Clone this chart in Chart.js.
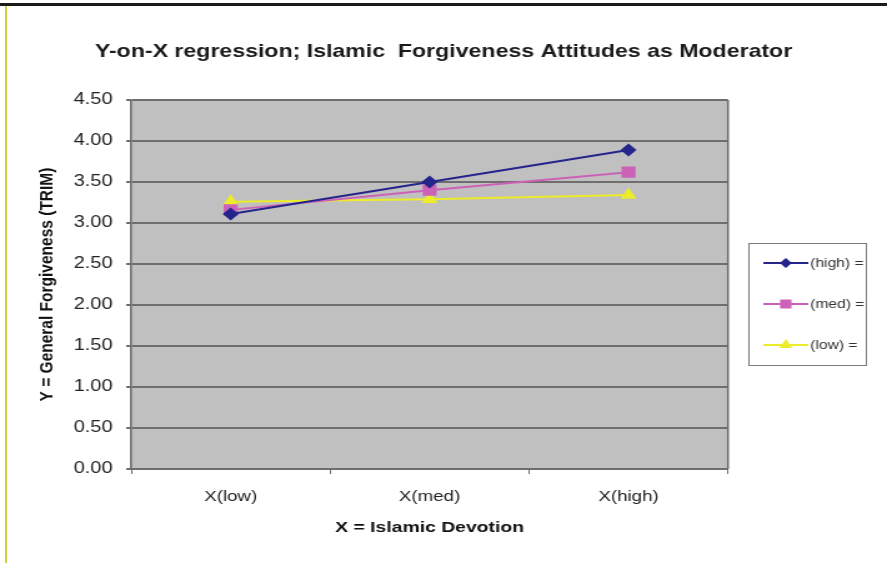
<!DOCTYPE html>
<html>
<head>
<meta charset="utf-8">
<script src="https://cdn.jsdelivr.net/npm/chart.js@4/dist/chart.umd.min.js"></script>
<style>
  body { margin: 0; background: #fff; overflow: hidden; }
  #wrap { position: relative; width: 887px; height: 563px; overflow: hidden; }
  /* the picture is an old excel chart stretched sideways */
  #stretch { position: absolute; left: 0; top: 0; width: 710px; height: 563px;
             transform: scaleX(1.2493); transform-origin: 0 0; }
  #topline { position: absolute; left: 0; top: 3px; width: 887px; height: 3px; background: #1a1a1a; }
  #leftline { position: absolute; left: 5px; top: 6px; width: 2px; height: 557px; background: #d6cf3c; }
</style>
</head>
<body>
<div id="wrap">
  <div id="stretch"><canvas id="graf" width="710" height="563"></canvas></div>
  <div id="topline"></div>
  <div id="leftline"></div>
</div>
<script>
const categories = ["X(low)", "X(med)", "X(high)"];
const seriesNames = ["(high) =", "(med) =", "(low) ="];
const highValues = [3.11, 3.50, 3.89];
const medValues = [3.16, 3.40, 3.62];
const lowValues = [3.26, 3.29, 3.34];
const yTicks = [0, 0.5, 1, 1.5, 2, 2.5, 3, 3.5, 4, 4.5];

const FONT = '"Liberation Sans", Arial, sans-serif';

const plotBg = {
  id: 'plotBg',
  beforeDraw(chart) {
    const { ctx, chartArea: a } = chart;
    ctx.save();
    ctx.fillStyle = '#c0c0c0';
    ctx.fillRect(a.left, a.top, a.width, a.height);
    ctx.restore();
  },
  afterDatasetsDraw(chart) {
    const { ctx, chartArea: a } = chart;
    ctx.save();
    ctx.strokeStyle = '#6e6e6e';
    ctx.lineWidth = 1.6;
    ctx.beginPath();
    ctx.moveTo(a.right, a.top);
    ctx.lineTo(a.right, a.bottom);
    ctx.stroke();
    ctx.restore();
  }
};

// legend box at the right, built from the dataset settings
const boxLegend = {
  id: 'boxLegend',
  afterDraw(chart) {
    const ctx = chart.ctx;
    const x0 = 599, y0 = 243, w = 94, h = 122;
    ctx.save();
    ctx.strokeStyle = '#7a7a7a';
    ctx.lineWidth = 1;
    ctx.strokeRect(x0 + 0.5, y0 + 0.5, w, h);
    chart.data.datasets.forEach((ds, i) => {
      const y = y0 + 20 + i * 41;
      ctx.strokeStyle = ds.borderColor;
      ctx.lineWidth = 2;
      ctx.beginPath();
      ctx.moveTo(611, y);
      ctx.lineTo(647, y);
      ctx.stroke();
      Chart.helpers.drawPoint(ctx, {
        pointStyle: ds.pointStyle, radius: ds.pointRadius - 1.5, borderWidth: 1
      }, 629, y);
      ctx.fillStyle = ds.borderColor;
      ctx.fill();
      ctx.fillStyle = '#333';
      ctx.font = '12.5px ' + FONT;
      ctx.textBaseline = 'middle';
      ctx.textAlign = 'left';
      ctx.fillText(ds.label, 648.5, y + 1);
    });
    ctx.restore();
  }
};

new Chart(document.getElementById('graf'), {
  type: 'line',
  data: {
    labels: categories,
    datasets: [
      { label: seriesNames[0], data: highValues, borderColor: '#25258c', backgroundColor: '#25258c',
        pointStyle: 'rectRot', pointRadius: 5, borderWidth: 2 },
      { label: seriesNames[1], data: medValues, borderColor: '#cc62b8', backgroundColor: '#cc62b8',
        pointStyle: 'rect', pointRadius: 6.5, borderWidth: 2 },
      { label: seriesNames[2], data: lowValues, borderColor: '#ecec2a', backgroundColor: '#ecec2a',
        pointStyle: 'triangle', pointRadius: 5.5, borderWidth: 2 }
    ]
  },
  plugins: [plotBg, boxLegend],
  options: {
    responsive: false,
    animation: false,
    layout: { padding: 0 },
    plugins: {
      legend: { display: false },
      tooltip: { enabled: false },
      title: {
        display: true,
        text: 'Y-on-X regression; Islamic  Forgiveness Attitudes as Moderator',
        color: '#1a1a1a',
        font: { family: FONT, size: 18.5, weight: 'bold', lineHeight: 1.2 },
        padding: { top: 41, bottom: 36.8 }
      }
    },
    scales: {
      x: {
        offset: true,
        grid: { display: true, drawOnChartArea: false, offset: true, tickLength: 5, color: '#6e6e6e', lineWidth: 1 },
        border: { color: '#6e6e6e', width: 2 },
        ticks: { color: '#222', padding: 14, font: { family: FONT, size: 15 } },
        title: {
          display: true, text: 'X = Islamic Devotion', color: '#111',
          font: { family: FONT, size: 15.5, weight: 'bold', lineHeight: 1 },
          padding: { top: 0, bottom: 27.5 }
        }
      },
      y: {
        min: 0, max: 4.5,
        afterBuildTicks(scale) { scale.ticks = yTicks.map(v => ({ value: v })); },
        grid: { color: '#6e6e6e', lineWidth: 2, tickLength: 4 },
        border: { color: '#6e6e6e', width: 1.6 },
        ticks: {
          color: '#222', padding: 11,
          font: { family: FONT, size: 16 },
          callback: v => Number(v).toFixed(2)
        },
        title: {
          display: true, text: 'Y = General Forgiveness (TRIM)', color: '#111',
          font: { family: FONT, size: 15.5, weight: 'bold', lineHeight: 1.2 },
          padding: { top: 28.3, bottom: 1 }
        }
      },
      yRight: {
        position: 'right',
        display: true,
        grid: { display: false, drawTicks: false },
        border: { display: false },
        ticks: { display: false },
        afterFit(scale) { scale.width = 127.3; }
      }
    }
  }
});
</script>
</body>
</html>
